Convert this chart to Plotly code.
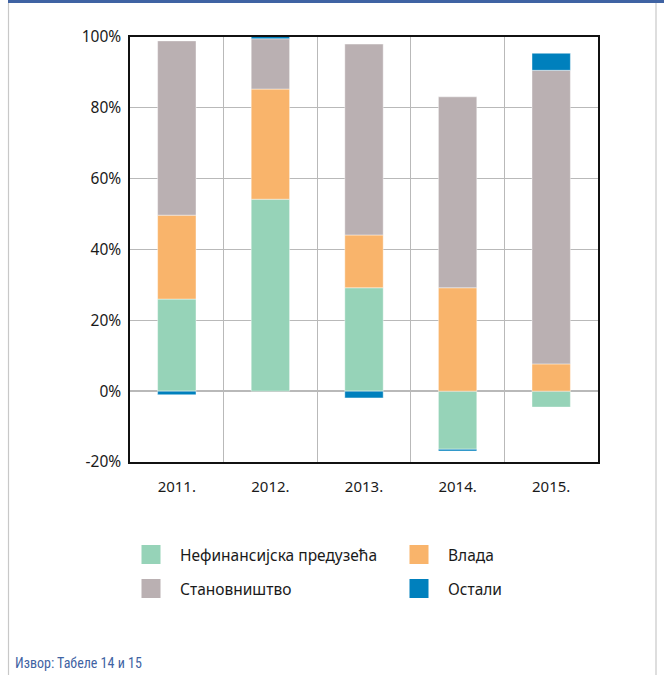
import plotly.graph_objects as go

years = ["2011.", "2012.", "2013.", "2014.", "2015."]
series_names = ["Нефинансијска предузећа", "Влада", "Становништво", "Остали"]
nonfin = [26.0, 54.2, 29.2, -16.4, -4.5]
gov = [23.7, 31.1, 14.9, 29.2, 7.7]
households = [49.2, 14.2, 53.9, 53.9, 82.9]
other = [-1.0, 0.8, -1.9, -0.5, 4.8]
colors = ["#96d3b8", "#f9b46b", "#bab0b2", "#0080bd"]
y_ticks = [-20, 0, 20, 40, 60, 80, 100]
y_ticktext = ["-20%", "0%", "20%", "40%", "60%", "80%", "100%"]
source_text = "Извор: Табеле 14 и 15"

font_main = "Noto Sans, Open Sans, sans-serif"
legend_ids = ["legend", "legend2", "legend3", "legend4"]

fig = go.Figure()
for name, vals, col, lg in zip(series_names, [nonfin, gov, households, other], colors, legend_ids):
    fig.add_trace(go.Bar(x=years, y=vals, name=name,
                         marker=dict(color=col, line=dict(width=0.6, color="rgba(255,255,255,0.7)")),
                         width=0.41, showlegend=False))
    fig.add_trace(go.Scatter(x=[None], y=[None], mode="markers", name=name, legend=lg,
                             marker=dict(symbol="square", size=16, color=col,
                                         line=dict(width=3, color=col)), showlegend=True))

W, H = 664, 675
L, R, T, B = 130, 598, 37, 462
pw, ph = R - L, B - T

def px(x):
    return (x - L) / pw

def py(y):
    return (B - y) / ph

legend_common = dict(orientation="v", xanchor="left", yanchor="middle", itemwidth=48,
                     font=dict(size=15.5, color="#1a1a1a"),
                     itemsizing="trace", bgcolor="rgba(0,0,0,0)")
legend_pos = [(122, 555), (390, 555), (122, 589), (390, 589)]

layout_legends = {}
for lg, (lx, ly) in zip(legend_ids, legend_pos):
    layout_legends[lg] = dict(x=px(lx), y=py(ly), **legend_common)

fig.update_layout(
    width=W, height=H,
    margin=dict(l=L, r=W - R, t=T, b=H - B, pad=0),
    paper_bgcolor="white", plot_bgcolor="white",
    barmode="relative", bargap=0.59,
    font=dict(family=font_main, size=15, color="#1a1a1a"),
    showlegend=True,
    xaxis=dict(type="category", tickson="boundaries", showgrid=True, gridcolor="#b9b9b9", gridwidth=1.2,
               showline=True, linecolor="#111", linewidth=1.5, mirror=True, ticks="",
               tickfont=dict(size=15), ticklabelstandoff=10, zeroline=False),
    yaxis=dict(range=[-20, 100], tickvals=y_ticks, ticktext=y_ticktext, showgrid=True,
               gridcolor="#b9b9b9", gridwidth=1.2, showline=True, linecolor="#111", linewidth=1.5,
               mirror=True, ticks="", tickfont=dict(size=15.5), zeroline=True, zerolinecolor="#b9b9b9",
               zerolinewidth=1.5, ticklabelstandoff=4),
    shapes=[
        dict(type="rect", xref="paper", yref="paper", x0=px(8), x1=px(664), y0=py(3), y1=py(0),
             fillcolor="#3f63a3", line=dict(width=0), layer="above"),
        dict(type="line", xref="paper", yref="paper", x0=px(8.5), x1=px(8.5), y0=py(3), y1=py(675),
             line=dict(color="#c8c8c8", width=1.2)),
        dict(type="line", xref="paper", yref="paper", x0=px(656), x1=px(656), y0=py(3), y1=py(675),
             line=dict(color="#c8c8c8", width=1.2)),
    ],
    annotations=[
        dict(text=source_text, xref="paper", yref="paper", x=px(13), y=py(663), xanchor="left",
             yanchor="middle", showarrow=False,
             font=dict(family="Liberation Sans Narrow, Roboto Condensed, Roboto, sans-serif", size=14,
                       color="#3f63a3")),
    ],
    **layout_legends,
)

fig.write_html("out.html", config={"displayModeBar": False},
               post_script="document.body.style.margin='0';document.body.style.overflow='hidden';")
